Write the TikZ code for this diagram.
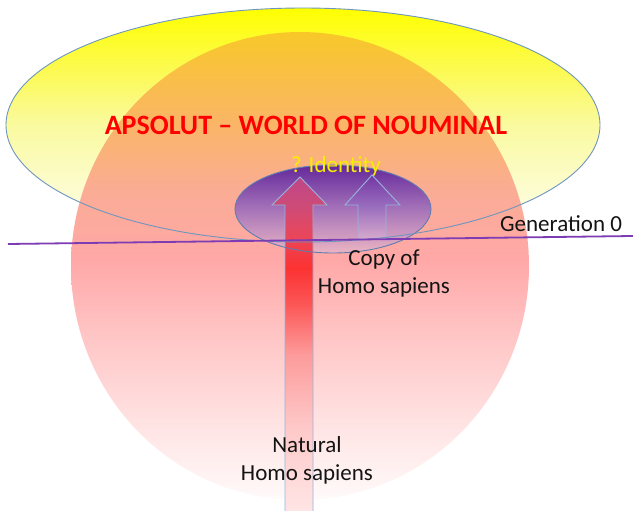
\documentclass[tikz,border=0pt]{standalone}
\usepackage{fontspec}
\setmainfont{Carlito}
\definecolor{ellborder}{RGB}{110,150,190}
\definecolor{arrborder}{RGB}{150,180,220}
\definecolor{smallborder}{RGB}{95,125,175}
\definecolor{genline}{RGB}{125,60,180}
\definecolor{titlered}{RGB}{255,0,0}
\definecolor{identyellow}{RGB}{245,240,0}
\definecolor{txtblack}{RGB}{20,20,20}
\pgfdeclareverticalshading{yellowshade}{100bp}{
  color(0bp)=(rgb,255:red,255;green,255;blue,240);
  color(25bp)=(rgb,255:red,255;green,255;blue,240);
  color(37bp)=(rgb,255:red,252;green,252;blue,205);
  color(50bp)=(rgb,255:red,250;green,250;blue,160);
  color(62bp)=(rgb,255:red,252;green,250;blue,80);
  color(75bp)=(rgb,255:red,255;green,255;blue,0);
  color(100bp)=(rgb,255:red,255;green,255;blue,0)}
\pgfdeclareverticalshading{sphereshade}{100bp}{
  color(0bp)=(rgb,255:red,255;green,250;blue,250);
  color(25bp)=(rgb,255:red,255;green,250;blue,250);
  color(33.5bp)=(rgb,255:red,255;green,226;blue,226);
  color(43.2bp)=(rgb,255:red,255;green,195;blue,195);
  color(50.6bp)=(rgb,255:red,255;green,168;blue,168);
  color(58.1bp)=(rgb,255:red,250;green,172;blue,148);
  color(65.6bp)=(rgb,255:red,250;green,182;blue,100);
  color(75bp)=(rgb,255:red,248;green,200;blue,40);
  color(100bp)=(rgb,255:red,248;green,200;blue,40)}
\pgfdeclareverticalshading{purpleshade}{100bp}{
  color(0bp)=(rgb,255:red,235;green,180;blue,195);
  color(25bp)=(rgb,255:red,235;green,180;blue,195);
  color(50bp)=(rgb,255:red,165;green,115;blue,185);
  color(75bp)=(rgb,255:red,100;green,40;blue,155);
  color(100bp)=(rgb,255:red,100;green,40;blue,155)}
\pgfdeclareverticalshading{redarrowshade}{100bp}{
  color(0bp)=(rgb,255:red,255;green,232;blue,232);
  color(25bp)=(rgb,255:red,255;green,232;blue,232);
  color(38.6bp)=(rgb,255:red,254;green,200;blue,200);
  color(49.1bp)=(rgb,255:red,253;green,155;blue,155);
  color(56.6bp)=(rgb,255:red,252;green,85;blue,85);
  color(61.8bp)=(rgb,255:red,252;green,50;blue,50);
  color(66.3bp)=(rgb,255:red,235;green,70;blue,90);
  color(70.8bp)=(rgb,255:red,205;green,75;blue,120);
  color(75bp)=(rgb,255:red,190;green,70;blue,135);
  color(100bp)=(rgb,255:red,190;green,70;blue,135)}
\pgfdeclareverticalshading{violetarrowshade}{100bp}{
  color(0bp)=(rgb,255:red,215;green,170;blue,205);
  color(25bp)=(rgb,255:red,215;green,170;blue,205);
  color(50bp)=(rgb,255:red,155;green,110;blue,190);
  color(75bp)=(rgb,255:red,115;green,55;blue,165);
  color(100bp)=(rgb,255:red,115;green,55;blue,165)}
\tikzset{
  bigtext/.style={font=\fontsize{23}{28}\selectfont, text=txtblack, align=center, inner sep=0pt},
  titletext/.style={font=\bfseries\fontsize{28}{34}\selectfont, text=titlered, inner sep=0pt},
  identtext/.style={font=\fontsize{23}{28}\selectfont, text=identyellow, inner sep=0pt},
}
\begin{document}
\begin{tikzpicture}[x=1pt,y=-1pt]
\useasboundingbox[fill=white] (0,0) rectangle (633,511);
% big yellow ellipse
\shade[shading=yellowshade] (303,125) ellipse [x radius=297pt, y radius=117pt];
% sphere
\shade[shading=sphereshade] (300,266) ellipse [x radius=229pt, y radius=234pt];
% small purple ellipse
\shade[shading=purpleshade] (333,209) ellipse [x radius=98pt, y radius=44pt];
% big arrow
\shade[shading=redarrowshade, draw=arrborder, line width=0.9pt]
  (285,520) -- (285,205) -- (272,205) -- (300,177) -- (327,205) -- (313,205) -- (313,520) -- cycle;
% small arrow
\shade[shading=violetarrowshade, draw=arrborder, line width=0.9pt]
  (358,239) -- (358,205) -- (345,205) -- (372,175) -- (400,205) -- (386,205) -- (386,239) -- cycle;
% borders
\draw[smallborder, line width=0.9pt] (333,209) ellipse [x radius=98pt, y radius=44pt];
\draw[ellborder, line width=0.9pt] (303,125) ellipse [x radius=297pt, y radius=117pt];
% generation line
\coordinate (gl) at (8,244);
\coordinate (gr) at (633,236);
\draw[genline, line width=1.8pt] (gl) -- (gr);
% texts
\node[titletext, anchor=base] (title) at (306,135) {APSOLUT – WORLD OF NOUMINAL};
\node[identtext, anchor=base] (ident) at (336,173) {? Identity};
\node[bigtext, anchor=base west] (gen) at (500,231) {Generation 0};
\node[bigtext, anchor=base] (copy) at (384,293) {Copy of\\Homo sapiens};
\node[bigtext, anchor=base] (natural) at (307,480) {Natural\\Homo sapiens};
\end{tikzpicture}
\end{document}
